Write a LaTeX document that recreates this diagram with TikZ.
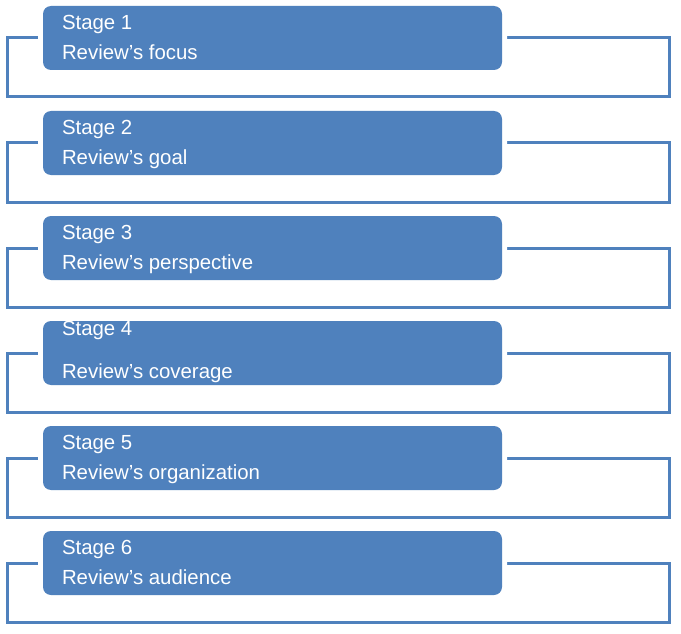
\documentclass[tikz,border=0pt]{standalone}
\usepackage{fontspec}
\setmainfont{Liberation Sans}
\usetikzlibrary{positioning,backgrounds}
\definecolor{stageblue}{RGB}{79,129,189}

\begin{document}
\begin{tikzpicture}[x=1pt,y=1pt,node distance=105pt]
  \tikzstyle{stagebox}=[rectangle,rounded corners=8pt,fill=stageblue,minimum width=459pt,
                        minimum height=64pt,inner sep=0pt,preaction={draw=white,line width=10pt}]
  \tikzstyle{stagetext}=[anchor=base west,text=white,inner sep=0pt,font=\fontsize{20.4}{24}\selectfont]
  \tikzstyle{frame}=[draw=stageblue,line width=3pt]

  \useasboundingbox (0,0) rectangle (681,-634);

  \node[stagebox] (S1) at (272.5,-38) {};
  \node[stagebox] (S2) [below of=S1] {};
  \node[stagebox] (S3) [below of=S2] {};
  \node[stagebox] (S4) [below of=S3] {};
  \node[stagebox] (S5) [below of=S4] {};
  \node[stagebox] (S6) [below of=S5] {};

  \node[stagetext] (S1a) at ([xshift=19pt,yshift=-24pt]S1.north west) {Stage 1};
  \node[stagetext] (S1b) at ([xshift=19pt,yshift=-54pt]S1.north west) {Review’s focus};
  \node[stagetext] (S2a) at ([xshift=19pt,yshift=-24pt]S2.north west) {Stage 2};
  \node[stagetext] (S2b) at ([xshift=19pt,yshift=-54pt]S2.north west) {Review’s goal};
  \node[stagetext] (S3a) at ([xshift=19pt,yshift=-24pt]S3.north west) {Stage 3};
  \node[stagetext] (S3b) at ([xshift=19pt,yshift=-54pt]S3.north west) {Review’s perspective};
  \node[stagetext] (S4a) at ([xshift=19pt,yshift=-15pt]S4.north west) {Stage 4};
  \node[stagetext] (S4b) at ([xshift=19pt,yshift=-58pt]S4.north west) {Review’s coverage};
  \node[stagetext] (S5a) at ([xshift=19pt,yshift=-24pt]S5.north west) {Stage 5};
  \node[stagetext] (S5b) at ([xshift=19pt,yshift=-54pt]S5.north west) {Review’s organization};
  \node[stagetext] (S6a) at ([xshift=19pt,yshift=-24pt]S6.north west) {Stage 6};
  \node[stagetext] (S6b) at ([xshift=19pt,yshift=-54pt]S6.north west) {Review’s audience};

  % frames behind the boxes
  \begin{scope}[on background layer]
    \draw[frame] ([xshift=-35pt]S1.west) rectangle ++(662,-59);
    \draw[frame] ([xshift=-35pt]S2.west) rectangle ++(662,-59);
    \draw[frame] ([xshift=-35pt]S3.west) rectangle ++(662,-59);
    \draw[frame] ([xshift=-35pt]S4.west) rectangle ++(662,-59);
    \draw[frame] ([xshift=-35pt]S5.west) rectangle ++(662,-59);
    \draw[frame] ([xshift=-35pt]S6.west) rectangle ++(662,-59);
  \end{scope}
\end{tikzpicture}
\end{document}
